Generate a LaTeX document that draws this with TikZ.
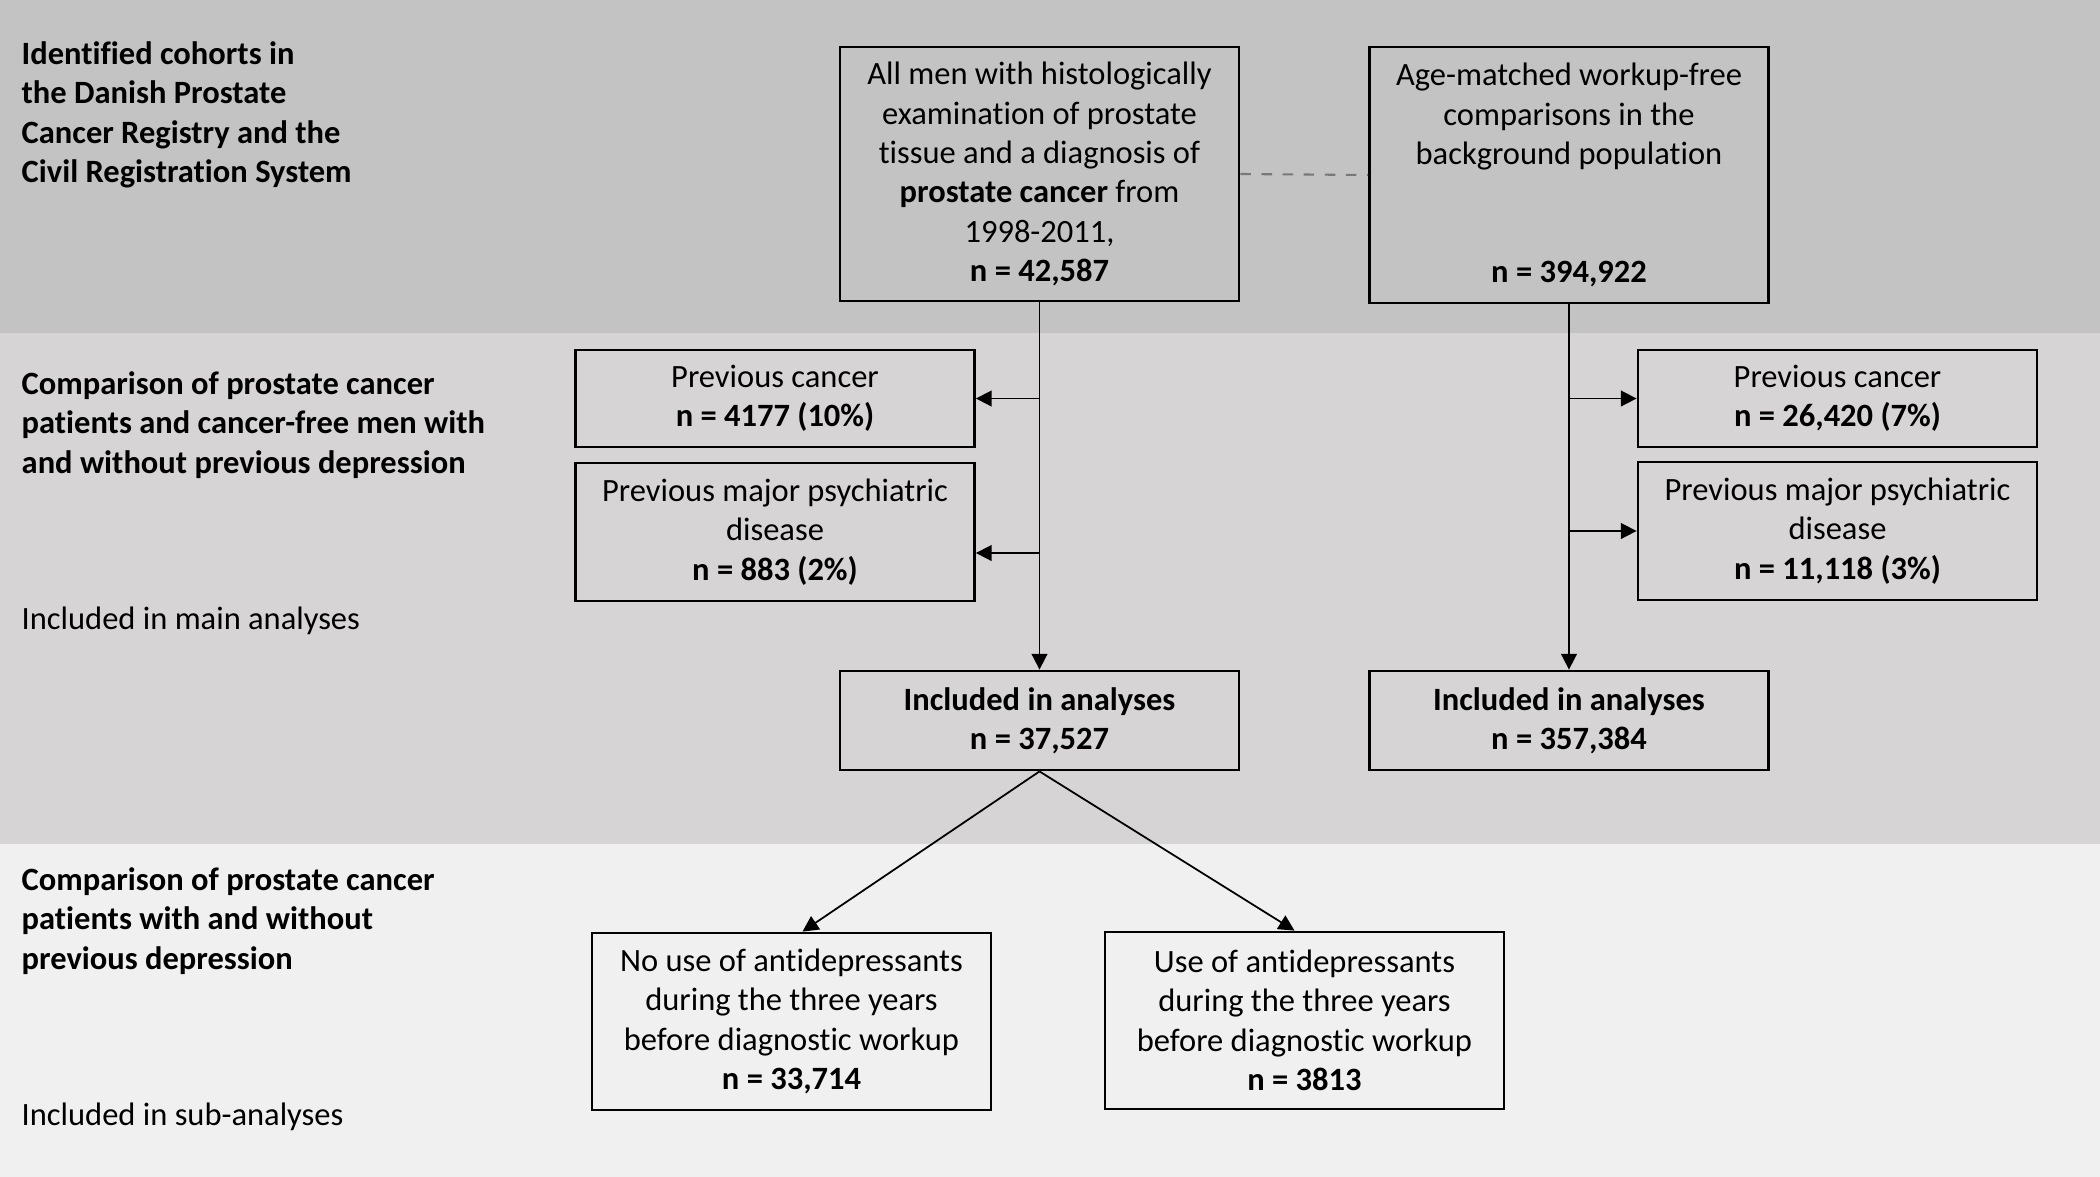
\documentclass[tikz,border=0pt]{standalone}
\usepackage{fontspec}
\setmainfont{Carlito}[Ligatures=NoCommon]
\usetikzlibrary{arrows.meta}
\definecolor{cohortgray}{RGB}{195,195,195}
\definecolor{maingray}{RGB}{214,212,213}
\definecolor{subgray}{RGB}{240,240,240}
\definecolor{linkgray}{RGB}{120,120,120}

\tikzset{
  flowbox/.style={draw, line width=0.8pt, minimum width=3.99cm, inner sep=0pt,
    align=center, font=\fontsize{9.25}{11.2}\selectfont},
  bandlabel/.style={anchor=north west, align=left, inner sep=0pt,
    font=\fontsize{9.25}{11.2}\selectfont},
  flowarrow/.style={line width=0.5pt, -{Triangle[length=4.5pt,width=4.5pt]}}
}

\begin{document}
\begin{tikzpicture}[x=1cm, y=-1cm]
  % bands
  \fill[cohortgray] (0,0) rectangle (21,3.33);
  \fill[maingray] (0,3.33) rectangle (21,8.44);
  \fill[subgray] (0,8.44) rectangle (21,11.77);

  % band labels
  \node[bandlabel] (lcohort) at (0.21,0.41) {\textbf{Identified cohorts in}\\\textbf{the Danish Prostate}\\\textbf{Cancer Registry and the}\\\textbf{Civil Registration System}};
  \node[bandlabel] (lmain) at (0.21,3.71) {\textbf{Comparison of prostate cancer}\\\textbf{patients and cancer-free men with}\\\textbf{and without previous depression}};
  \node[bandlabel] (lmainincl) at (0.21,6.06) {Included in main analyses};
  \node[bandlabel] (lsub) at (0.21,8.67) {\textbf{Comparison of prostate cancer}\\\textbf{patients with and without}\\\textbf{previous depression}};
  \node[bandlabel] (lsubincl) at (0.21,11.02) {Included in sub-analyses};

  % cohorts
  \node[flowbox, minimum height=2.54cm] (cancer) at (10.395,1.74) {All men with histologically\\examination of prostate\\tissue and a diagnosis of\\\textbf{prostate cancer} from\\1998-2011,\\\textbf{n = 42,587}};
  \node[flowbox, minimum height=2.56cm] (controls) at (15.69,1.75) {Age-matched workup-free\\comparisons in the\\background population\\~\\~\\\textbf{n = 394,922}};

  % exclusions
  \node[flowbox, minimum height=0.97cm] (prevcancerL) at (7.75,3.985) {Previous cancer\\\textbf{n = 4177 (10\%)}};
  \node[flowbox, minimum height=1.38cm] (prevpsychL) at (7.75,5.32) {Previous major psychiatric\\disease\\\textbf{n = 883 (2\%)}};
  \node[flowbox, minimum height=0.97cm] (prevcancerR) at (18.375,3.985) {Previous cancer\\\textbf{n = 26,420 (7\%)}};
  \node[flowbox, minimum height=1.38cm] (prevpsychR) at (18.375,5.31) {Previous major psychiatric\\disease\\\textbf{n = 11,118 (3\%)}};

  % included
  \node[flowbox, minimum height=0.99cm] (inclL) at (10.395,7.205) {\textbf{Included in analyses}\\\textbf{n = 37,527}};
  \node[flowbox, minimum height=0.99cm] (inclR) at (15.69,7.205) {\textbf{Included in analyses}\\\textbf{n = 357,384}};

  % sub-analyses
  \node[flowbox, minimum height=1.77cm] (nouse) at (7.915,10.215) {No use of antidepressants\\during the three years\\before diagnostic workup\\\textbf{n = 33,714}};
  \node[flowbox, minimum height=1.77cm] (use) at (13.045,10.205) {Use of antidepressants\\during the three years\\before diagnostic workup\\\textbf{n = 3813}};

  % connectors
  \draw[dashed, linkgray, line width=0.6pt] (cancer.east) -- (controls.west);
  \draw[flowarrow] (cancer.south) -- (inclL.north);
  \draw[flowarrow] (cancer.south |- prevcancerL.east) -- (prevcancerL.east);
  \draw[flowarrow] ([yshift=-0.21cm]cancer.south |- prevpsychL.east) -- ([yshift=-0.21cm]prevpsychL.east);
  \draw[flowarrow] (controls.south) -- (inclR.north);
  \draw[flowarrow] (controls.south |- prevcancerR.west) -- (prevcancerR.west);
  \draw[flowarrow] (controls.south |- prevpsychR.west) -- (prevpsychR.west);
  \draw[flowarrow] (inclL.south) -- ([xshift=0.11cm]nouse.north);
  \draw[flowarrow] (inclL.south) -- ([xshift=-0.1cm]use.north);
\end{tikzpicture}
\end{document}
